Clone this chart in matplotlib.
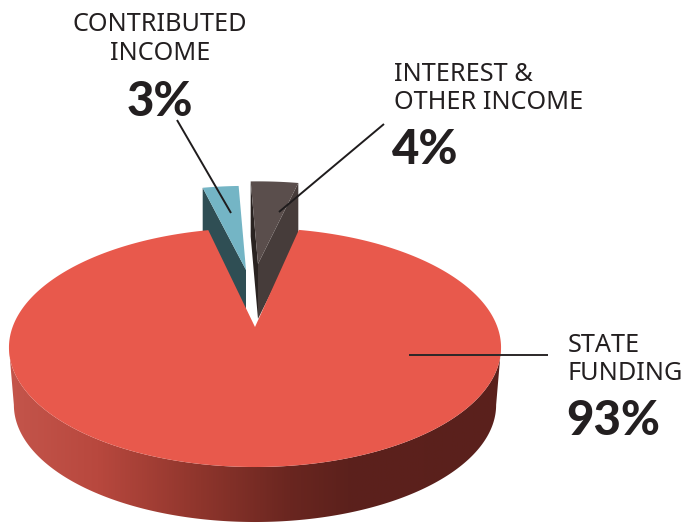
import numpy as np
import matplotlib
matplotlib.use('Agg')
import matplotlib.pyplot as plt
from matplotlib.colors import LinearSegmentedColormap
from matplotlib.patches import Polygon

# the data
categories = ['CONTRIBUTED\nINCOME', 'INTEREST &\nOTHER INCOME', 'STATE\nFUNDING']
shares = [3, 4, 93]

# slice pulled away from the pie, in units of the radius
pull_back = [0.537, 0.60, 0]
pull_side = [-9, 3, 0]

# perspective of the pie, everything in image pixels
cx, cy = 255, 327
k = 0.1715
b = 242.4
c = 116
depth = 55
first_angle = -13

ink = '#231f20'
name_fonts = ['Noto Sans', 'DejaVu Sans']
pct_fonts = ['Lato', 'DejaVu Sans']


def project(theta, radius=1.0, back=0.0, side=0.0, scale=1.0, drop=0.0):
    # theta is clockwise from the back of the pie
    t = np.radians(theta)
    x = radius * np.sin(t)
    y = radius * np.cos(t) + back
    den = 1 + k * y
    return cx + side + scale * b * x / den, cy + drop - scale * c * y / den


def arc(start, end, **kw):
    return project(np.linspace(start, end, 300), **kw)


fig = plt.figure(figsize=(6.84, 5.25), dpi=100)
ax = fig.add_axes([0, 0, 1, 1])

# turn the shares into angles
edges = first_angle + np.cumsum([0] + shares) * 3.6

# contributed slice
a0, a1 = edges[0], edges[1]
ox, oy = arc(a0, a1, back=pull_back[0], side=pull_side[0])
ax_, ay_ = project(0.0, radius=0, back=pull_back[0], side=pull_side[0])
ax.fill([ox[0], ax_, ax_, ox[0]], [oy[0], ay_, ay_ + depth, oy[0] + depth], color='#2f4e54', lw=0)
ax.fill(np.r_[ax_, ox], np.r_[ay_, oy], color='#74b5c5', lw=0)

# interest slice
a0, a1 = edges[1], edges[2]
ox, oy = arc(a0, a1, back=pull_back[1], side=pull_side[1])
ax_, ay_ = project(0.0, radius=0, back=pull_back[1], side=pull_side[1])
ax.fill([ox[0], ax_, ax_, ox[0]], [oy[0], ay_, ay_ + depth, oy[0] + depth], color='#2a2321', lw=0)
ax.fill([ox[-1], ax_, ax_, ox[-1]], [oy[-1], ay_, ay_ + depth, oy[-1] + depth], color='#463c3a', lw=0)
ax.fill(np.r_[ax_, ox], np.r_[ay_, oy], color='#5a4e4c', lw=0)

# side wall of the big slice, gradient clipped to the wall shape
side_edge = np.degrees(np.arccos(-k))
tx, ty = arc(side_edge, 360 - side_edge)
bx, by = arc(side_edge, 360 - side_edge, scale=0.98, drop=57.8)
wall = Polygon(np.c_[np.r_[tx, bx[::-1]], np.r_[ty, by[::-1]]], closed=True, transform=ax.transData, fc='none', ec='none')
ax.add_patch(wall)
stops = [(0.0, '#c4554b'), (0.18, '#b8483e'), (0.39, '#8e352c'), (0.57, '#6a2620'), (0.69, '#5c211c'), (1.0, '#5a201c')]
wall_cmap = LinearSegmentedColormap.from_list('wall', stops)
grad = ax.imshow(np.linspace(0, 1, 512)[None, :], cmap=wall_cmap, extent=[9, 501, 525, 340], aspect='auto')
grad.set_clip_path(wall)

# top of the big slice
ox, oy = arc(edges[2], edges[3])
ax.fill(np.r_[cx, ox], np.r_[cy, oy], color='#e8594c', lw=0)

# leader lines
ax.plot([177, 231], [120, 213], color='#1f1c1d', lw=1.4, solid_capstyle='butt')
ax.plot([384, 279], [124, 212], color='#1f1c1d', lw=1.4, solid_capstyle='butt')
ax.plot([409, 548], [355, 355], color='#2b2728', lw=1.4, solid_capstyle='butt')

# labels
name_size = 18.2
pct_size = 34
ax.text(160, 31, 'CONTRIBUTED', fontsize=name_size, color=ink, family=name_fonts, ha='center', va='baseline')
ax.text(160, 60, 'INCOME', fontsize=name_size, color=ink, family=name_fonts, ha='center', va='baseline')
ax.text(160, 116, f'{shares[0]}%', fontsize=pct_size, weight=900, color=ink, family=pct_fonts, ha='center', va='baseline')
ax.text(394, 81, 'INTEREST &', fontsize=name_size, color=ink, family=name_fonts, va='baseline')
ax.text(394, 109, 'OTHER INCOME', fontsize=name_size, color=ink, family=name_fonts, va='baseline')
ax.text(392, 164, f'{shares[1]}%', fontsize=pct_size, weight=900, color=ink, family=pct_fonts, va='baseline')
ax.text(568, 352, 'STATE', fontsize=name_size, color=ink, family=name_fonts, va='baseline')
ax.text(568, 380, 'FUNDING', fontsize=name_size, color=ink, family=name_fonts, va='baseline')
ax.text(566, 435, f'{shares[2]}%', fontsize=pct_size, weight=900, color=ink, family=pct_fonts, va='baseline')

ax.set_xlim(0, 684)
ax.set_ylim(525, 0)
ax.axis('off')

fig.savefig('out.png', dpi=100)
